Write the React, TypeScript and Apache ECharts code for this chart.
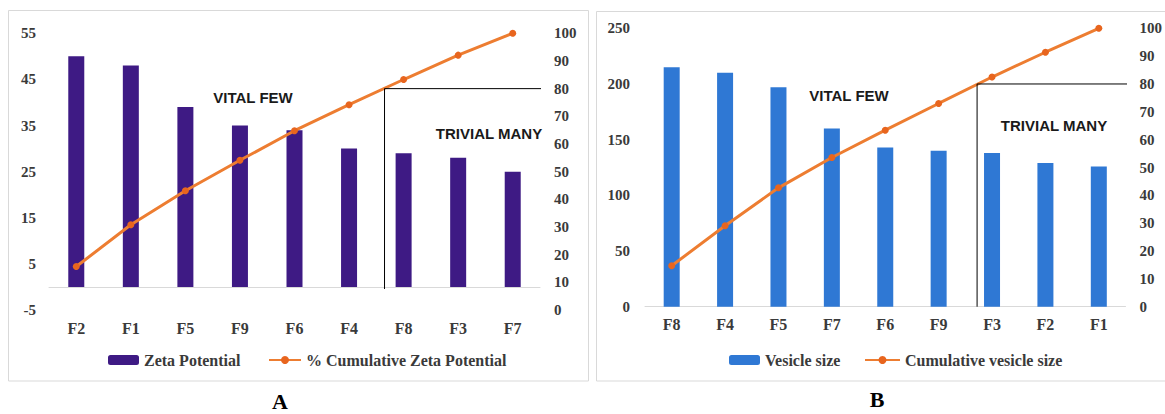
import React, { useEffect, useRef } from "react";
import * as echarts from "echarts";

// ---- Chart A data ----
const categoriesA = ["F2", "F1", "F5", "F9", "F6", "F4", "F8", "F3", "F7"];
const zetaPotential = [50, 48, 39, 35, 34, 30, 29, 28, 25];
const cumulativeZeta = [15.7, 30.8, 43.1, 54.1, 64.8, 74.2, 83.3, 92.1, 100];

// ---- Chart B data ----
const categoriesB = ["F8", "F4", "F5", "F7", "F6", "F9", "F3", "F2", "F1"];
const vesicleSize = [215, 210, 197, 160, 143, 140, 138, 129, 126];
const cumulativeVesicle = [14.7, 29.1, 42.7, 53.6, 63.4, 73.0, 82.5, 91.4, 100];

// Pareto 80% divider lines (category-index x, right-axis % y)
const dividerA = [[6.15, 7.6], [6.15, 80], [9.05, 80]];
const dividerB = [[6.22, 0], [6.22, 80], [9.18, 80]];

const serif = "'Liberation Serif', 'Times New Roman', serif";
const sans = "'Liberation Sans', Arial, sans-serif";
const textColor = "#3a3a3a";
const purple = "#3E1A84";
const blue = "#2F78D4";
const orange = "#ED7D31";
const markerOrange = "#E8651E";

export default function App() {
  const ref = useRef<HTMLDivElement>(null);

  useEffect(() => {
    if (!ref.current) return;
    const chart = echarts.init(ref.current, undefined, { renderer: "svg" });

    const yLabel = {
      fontFamily: serif,
      fontWeight: "bold" as const,
      fontSize: 15,
      color: textColor,
    };
    const xLabel = {
      fontFamily: serif,
      fontWeight: "bold" as const,
      fontSize: 16,
      color: textColor,
    };
    const legendText = {
      fontFamily: serif,
      fontWeight: "bold" as const,
      fontSize: 16,
      color: textColor,
      lineHeight: 16,
    };

    const option: any = {
      animation: false,
      backgroundColor: "#ffffff",
      grid: [
        { left: 49, right: 1165 - 540, top: 33.3, bottom: 414 - 310 },
        { left: 645, right: 1165 - 1126.6, top: 28.3, bottom: 414 - 306.7 },
      ],
      xAxis: [
        {
          gridIndex: 0,
          type: "category",
          data: categoriesA,
          axisLine: { onZero: true, lineStyle: { color: "#D9D9D9", width: 1 } },
          axisTick: { show: false },
          axisLabel: { ...xLabel, margin: 10 },
        },
        {
          gridIndex: 0,
          type: "value",
          min: 0,
          max: 9,
          show: false,
          axisLine: { onZero: false },
        },
        {
          gridIndex: 1,
          type: "category",
          data: categoriesB,
          axisLine: { onZero: false, lineStyle: { color: "#D9D9D9", width: 1 } },
          axisTick: { show: false },
          axisLabel: { ...xLabel, margin: 10 },
        },
        {
          gridIndex: 1,
          type: "value",
          min: 0,
          max: 9,
          show: false,
          axisLine: { onZero: false },
        },
      ],
      yAxis: [
        {
          gridIndex: 0,
          type: "value",
          min: -5,
          max: 55,
          interval: 10,
          axisLine: { show: false, onZero: false },
          axisTick: { show: false },
          splitLine: { show: false },
          axisLabel: { ...yLabel, margin: 13 },
        },
        {
          gridIndex: 0,
          type: "value",
          position: "right",
          min: 0,
          max: 100,
          interval: 10,
          axisLine: { show: false, onZero: false },
          axisTick: { show: false },
          splitLine: { show: false },
          axisLabel: { ...yLabel, margin: 14 },
        },
        {
          gridIndex: 1,
          type: "value",
          min: 0,
          max: 250,
          interval: 50,
          axisLine: { show: false, onZero: false },
          axisTick: { show: false },
          splitLine: { show: false },
          axisLabel: { ...yLabel, margin: 15 },
        },
        {
          gridIndex: 1,
          type: "value",
          position: "right",
          min: 0,
          max: 100,
          interval: 10,
          axisLine: { show: false, onZero: false },
          axisTick: { show: false },
          splitLine: { show: false },
          axisLabel: { ...yLabel, margin: 14 },
        },
      ],
      legend: [
        {
          data: ["Zeta Potential"],
          left: 103,
          top: 347,
          itemWidth: 31,
          itemHeight: 10,
          itemGap: 0,
          textStyle: legendText,
          selectedMode: false,
        },
        {
          data: ["% Cumulative Zeta Potential"],
          left: 263,
          top: 347,
          itemWidth: 32,
          itemHeight: 10,
          textStyle: legendText,
          selectedMode: false,
        },
        {
          data: ["Vesicle size"],
          left: 724,
          top: 347,
          itemWidth: 31,
          itemHeight: 10,
          textStyle: legendText,
          selectedMode: false,
        },
        {
          data: ["Cumulative vesicle size"],
          left: 859,
          top: 347,
          itemWidth: 35,
          itemHeight: 10,
          textStyle: legendText,
          selectedMode: false,
        },
      ],
      series: [
        {
          name: "Zeta Potential",
          type: "bar",
          xAxisIndex: 0,
          yAxisIndex: 0,
          data: zetaPotential,
          barWidth: 16,
          itemStyle: { color: purple },
        },
        {
          name: "% Cumulative Zeta Potential",
          type: "line",
          xAxisIndex: 0,
          yAxisIndex: 1,
          data: cumulativeZeta,
          symbol: "circle",
          symbolSize: 7,
          lineStyle: { color: orange, width: 3 },
          itemStyle: { color: markerOrange },
        },
        {
          name: "dividerA",
          type: "line",
          xAxisIndex: 1,
          yAxisIndex: 1,
          data: dividerA,
          symbol: "none",
          clip: false,
          silent: true,
          z: 5,
          lineStyle: { color: "#000000", width: 1 },
        },
        {
          name: "Vesicle size",
          type: "bar",
          xAxisIndex: 2,
          yAxisIndex: 2,
          data: vesicleSize,
          barWidth: 16,
          itemStyle: { color: blue },
        },
        {
          name: "Cumulative vesicle size",
          type: "line",
          xAxisIndex: 2,
          yAxisIndex: 3,
          data: cumulativeVesicle,
          symbol: "circle",
          symbolSize: 7,
          lineStyle: { color: orange, width: 3 },
          itemStyle: { color: markerOrange },
        },
        {
          name: "dividerB",
          type: "line",
          xAxisIndex: 3,
          yAxisIndex: 3,
          data: dividerB,
          symbol: "none",
          clip: false,
          silent: true,
          z: 5,
          lineStyle: { color: "#000000", width: 1 },
        },
      ],
      graphic: [
        {
          type: "rect",
          shape: { x: 8.5, y: 10.5, width: 580, height: 370.5 },
          style: { fill: "none", stroke: "#D9D9D9", lineWidth: 1 },
          silent: true,
          z: -1,
        },
        {
          type: "rect",
          shape: { x: 596.5, y: 11.5, width: 600, height: 369.5 },
          style: { fill: "none", stroke: "#D9D9D9", lineWidth: 1 },
          silent: true,
          z: -1,
        },
        {
          type: "text",
          x: 253,
          y: 97,
          style: {
            text: "VITAL FEW",
            font: `bold 15px ${sans}`,
            fill: "#1a1a1a",
            textAlign: "center",
            textVerticalAlign: "middle",
          },
          z: 10,
        },
        {
          type: "text",
          x: 489,
          y: 133,
          style: {
            text: "TRIVIAL MANY",
            font: `bold 15px ${sans}`,
            fill: "#1a1a1a",
            textAlign: "center",
            textVerticalAlign: "middle",
          },
          z: 10,
        },
        {
          type: "text",
          x: 849,
          y: 95,
          style: {
            text: "VITAL FEW",
            font: `bold 15px ${sans}`,
            fill: "#1a1a1a",
            textAlign: "center",
            textVerticalAlign: "middle",
          },
          z: 10,
        },
        {
          type: "text",
          x: 1054,
          y: 125,
          style: {
            text: "TRIVIAL MANY",
            font: `bold 15px ${sans}`,
            fill: "#1a1a1a",
            textAlign: "center",
            textVerticalAlign: "middle",
          },
          z: 10,
        },
        {
          type: "text",
          x: 280,
          y: 401,
          style: {
            text: "A",
            font: `bold 22px ${serif}`,
            fill: "#000000",
            textAlign: "center",
            textVerticalAlign: "middle",
          },
        },
        {
          type: "text",
          x: 877,
          y: 399,
          style: {
            text: "B",
            font: `bold 22px ${serif}`,
            fill: "#000000",
            textAlign: "center",
            textVerticalAlign: "middle",
          },
        },
      ],
    };

    chart.setOption(option);
    return () => {
      chart.dispose();
    };
  }, []);

  return (
    <div
      style={{
        position: "fixed",
        left: 0,
        top: 0,
        width: 1165,
        height: 414,
        background: "#ffffff",
      }}
    >
      <div ref={ref} style={{ width: 1165, height: 414 }} />
    </div>
  );
}
